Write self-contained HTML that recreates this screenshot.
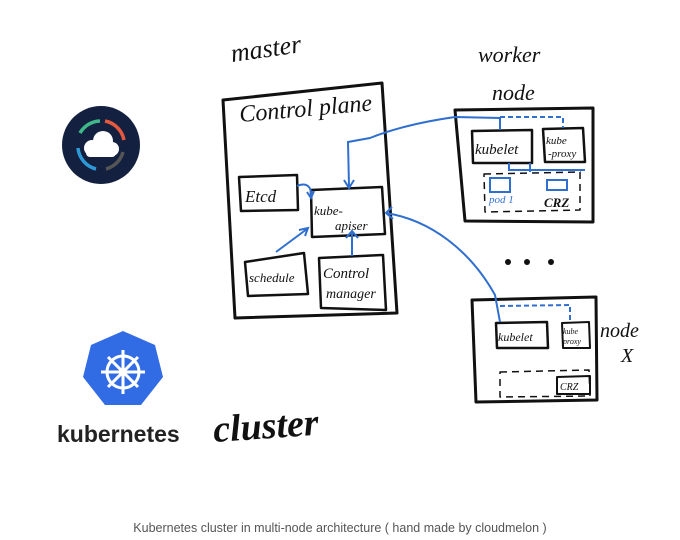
<!DOCTYPE html>
<html><head><meta charset="utf-8"><style>
html,body{margin:0;padding:0;background:#fff;width:680px;height:540px;overflow:hidden}
svg{display:block}
.h{font-family:"Liberation Serif",serif;font-style:italic;fill:#111}
</style></head><body>
<svg width="680" height="540" viewBox="0 0 680 540" xmlns="http://www.w3.org/2000/svg">
<g fill="none" stroke="#111" stroke-width="3" stroke-linejoin="round">
<path d="M223 100 L382 83 L397 313 L235 318 Z"/>
<path d="M239 177 L297 175 L298 210 L241 211 Z" stroke-width="2.5"/>
<path d="M311 190 L382 187 L385 234 L312 237 Z" stroke-width="2.5"/>
<path d="M245 262 L304 253 L308 294 L248 296 Z" stroke-width="2.5"/>
<path d="M319 258 L383 255 L386 310 L321 308 Z" stroke-width="2.5"/>
<path d="M455 110 L593 108 L593 222 L465 221 Z"/>
<path d="M472 131 L532 130 L532 163 L473 163 Z" stroke-width="2.5"/>
<path d="M543 129 L583 128 L585 162 L545 162 Z" stroke-width="2.5"/>
<path d="M484 174 L580 172 L580 210 L485 212 Z" stroke-width="1.5" stroke-dasharray="7 5"/>
<path d="M472 300 L596 297 L597 400 L476 402 Z"/>
<path d="M496 323 L547 322 L548 348 L497 348 Z" stroke-width="2.5"/>
<path d="M562 323 L589 322 L590 348 L563 348 Z" stroke-width="2"/>
<path d="M500 372 L589 370 L590 396 L500 397 Z" stroke-width="1.5" stroke-dasharray="7 5"/>
<path d="M557 377 L590 376 L590 394 L557 394 Z" stroke-width="2"/>
</g>
<g fill="none" stroke="#2f6fd0" stroke-width="2">
<rect x="490" y="178" width="20" height="14"/>
<rect x="547" y="180" width="20" height="10"/>
<path d="M500 130 L500 118 L455 117 C420 122 390 130 370 138 L348 142 L349 186"/>
<path d="M344 180 L349 188 L354 180"/>
<path d="M500 117 L563 117 L563 128" stroke-dasharray="5 3"/>
<path d="M386 213 C430 220 470 250 495 295 L500 322"/>
<path d="M392 207 L386 213 L393 219"/>
<path d="M500 306 L570 305 L570 322" stroke-dasharray="5 3"/>
<path d="M297 186 C306 182 312 186 311 197"/>
<path d="M307 192 L311 198 L314 191"/>
<path d="M276 252 L307 229"/>
<path d="M299 230 L308 228 L305 236"/>
<path d="M352 256 L352 232"/>
<path d="M346 238 L352 231 L358 238"/>
<path d="M509 163 L509 170 L585 170 M530 163 L530 172" />
</g>
<g fill="#111">
<circle cx="508" cy="262" r="3"/><circle cx="527" cy="262" r="3"/><circle cx="551" cy="262" r="3"/>
</g>
<text x="232" y="62" class="h" font-size="26" transform="rotate(-8 232 62)">master</text>
<text x="240" y="122" class="h" font-size="24" transform="rotate(-5 240 122)">Control plane</text>
<text x="245" y="202" class="h" font-size="17">Etcd</text>
<text x="314" y="215" class="h" font-size="13">kube-</text>
<text x="335" y="230" class="h" font-size="13">apiser</text>
<text x="249" y="282" class="h" font-size="13">schedule</text>
<text x="323" y="278" class="h" font-size="15">Control</text>
<text x="326" y="298" class="h" font-size="14">manager</text>
<text x="478" y="62" class="h" font-size="22">worker</text>
<text x="492" y="100" class="h" font-size="22">node</text>
<text x="475" y="154" class="h" font-size="15">kubelet</text>
<text x="546" y="144" class="h" font-size="11">kube</text>
<text x="548" y="157" class="h" font-size="11">-proxy</text>
<text x="489" y="203" class="h" font-size="11" style="fill:#2f6fd0">pod 1</text>
<text x="544" y="207" class="h" font-size="13" font-weight="bold">CRZ</text>
<text x="498" y="341" class="h" font-size="12">kubelet</text>
<text x="563" y="334" class="h" font-size="8">kube</text>
<text x="563" y="344" class="h" font-size="8">proxy</text>
<text x="560" y="390" class="h" font-size="10">CRZ</text>
<text x="600" y="337" class="h" font-size="20">node</text>
<text x="621" y="362" class="h" font-size="20">X</text>
<text x="214" y="442" class="h" font-size="38" font-weight="bold" transform="rotate(-4 214 442)">cluster</text>
<circle cx="101" cy="145" r="39" fill="#13203f"/>
<g fill="none" stroke-width="3.5">
<path d="M80 133 A24 24 0 0 1 100 121" stroke="#3fb98a"/>
<path d="M105 121 A24 24 0 0 1 124 140" stroke="#e5593e"/>
<path d="M123 152 A24 24 0 0 1 106 169" stroke="#555"/>
<path d="M96 169 A24 24 0 0 1 78 148" stroke="#2d9ad8"/>
</g>
<g fill="#fff"><circle cx="92" cy="148" r="8"/><circle cx="103" cy="141" r="10"/><circle cx="112" cy="149" r="7"/><rect x="86" y="148" width="30" height="9" rx="4"/></g>
<g transform="translate(0,15)">
<polygon points="123,316 155,330 163,362 141,390 105,390 83,362 91,330" fill="#326ce5"/>
<g stroke="#fff" stroke-width="3" fill="none">
<circle cx="123" cy="357" r="16"/>
<path d="M123 335 V379 M101 357 H145 M108 342 L138 372 M138 342 L108 372"/>
</g>
<circle cx="123" cy="357" r="4" fill="#fff"/>
</g>
<text x="57" y="442" font-family="Liberation Sans,sans-serif" font-size="23" font-weight="bold" fill="#222">kubernetes</text>
<text x="340" y="532" text-anchor="middle" font-family="Liberation Sans,sans-serif" font-size="12.5" fill="#555">Kubernetes cluster in multi-node architecture ( hand made by cloudmelon )</text>
</svg>
</body></html>
